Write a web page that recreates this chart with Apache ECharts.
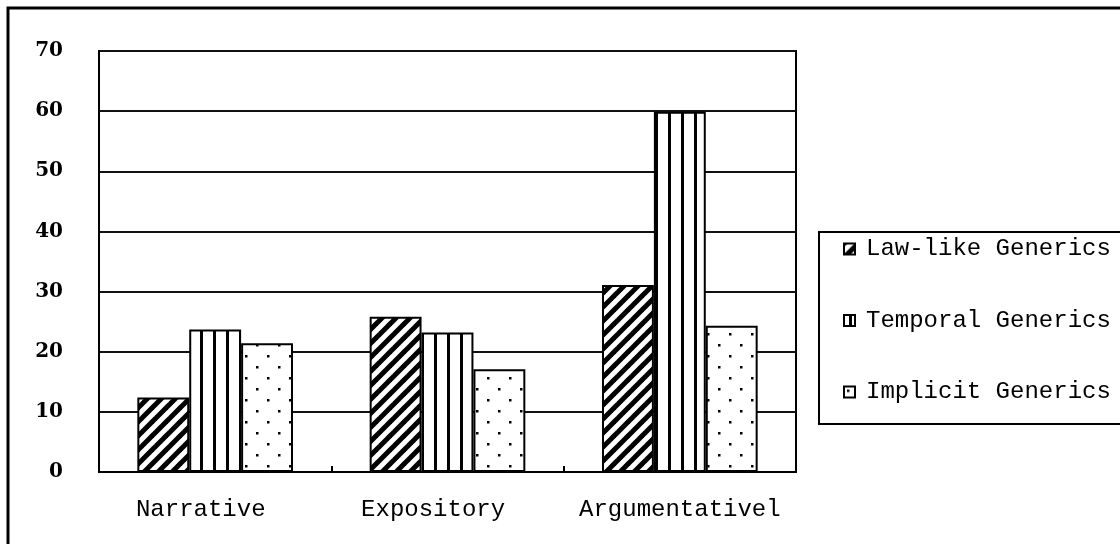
<!DOCTYPE html>
<html>
<head>
<meta charset="utf-8">
<script src="https://cdn.jsdelivr.net/npm/echarts@6/dist/echarts.min.js"></script>
<style>
html,body{margin:0;padding:0;background:#fff;}
#chart{width:1120px;height:544px;}
</style>
</head>
<body>
<div id="chart"></div>
<script>
const categories = ['Narrative', 'Expository', 'Argumentativel'];
const seriesNames = ['Law-like Generics', 'Temporal Generics', 'Implicit Generics'];
const lawLike = [12.4, 25.8, 31.1];
const temporal = [23.7, 23.2, 59.9];
const implicit = [21.4, 17.1, 24.3];
const yTicks = [0, 10, 20, 30, 40, 50, 60, 70];

function makeTile(w, h, draw) {
  const c = document.createElement('canvas');
  c.width = w; c.height = h;
  const ctx = c.getContext('2d');
  ctx.fillStyle = '#fff';
  ctx.fillRect(0, 0, w, h);
  ctx.fillStyle = '#000';
  ctx.strokeStyle = '#000';
  draw(ctx);
  return c;
}
const hatch = makeTile(14, 14, ctx => {
  ctx.lineWidth = 5;
  for (let k = -1; k <= 1; k++) {
    ctx.beginPath();
    ctx.moveTo(-14 + k * 14, 14 + 14);
    ctx.lineTo(14 + k * 14 + 14, -14);
    ctx.stroke();
  }
});
const vstripe = makeTile(13, 13, ctx => {
  ctx.fillRect(5, 0, 3, 13);
});
const dots = makeTile(22, 22, ctx => {
  ctx.fillRect(3, 3, 2.5, 2.5);
  ctx.fillRect(14, 14, 2.5, 2.5);
});
const patterns = [hatch, vstripe, dots];
const values = [lawLike, temporal, implicit];

const chart = echarts.init(document.getElementById('chart'));
const monoFont = '"Liberation Mono", monospace';
chart.setOption({
  animation: false,
  backgroundColor: '#fff',
  grid: { left: 99, right: 324, top: 51, bottom: 72, show: true, borderColor: '#000', borderWidth: 2 },
  legend: {
    orient: 'vertical',
    left: 819,
    top: 232,
    padding: [5, 40, 20, 24],
    itemGap: 47.5,
    itemWidth: 11,
    itemHeight: 11,
    icon: 'rect',
    borderColor: '#000',
    borderWidth: 2,
    backgroundColor: '#fff',
    data: seriesNames,
    textStyle: { fontFamily: monoFont, fontSize: 24, color: '#000', lineHeight: 24, padding: [0, 0, 0, 6] }
  },
  xAxis: {
    type: 'category',
    data: categories,
    axisLine: { lineStyle: { color: '#000', width: 2 } },
    axisTick: { show: true, inside: true, interval: 0, length: 6, lineStyle: { color: '#000', width: 2 } },
    axisLabel: {
      interval: 0, fontFamily: monoFont, fontSize: 24, color: '#000', margin: 26,
      formatter: (v, i) => (i < 2 ? v + '  ' : v)
    }
  },
  yAxis: {
    type: 'value',
    min: yTicks[0],
    max: yTicks[yTicks.length - 1],
    interval: 10,
    axisLine: { show: true, lineStyle: { color: '#000', width: 2 } },
    axisTick: { show: false },
    splitLine: { lineStyle: { color: '#111', width: 2 } },
    axisLabel: { fontFamily: '"DejaVu Serif", serif', fontWeight: 'bold', fontSize: 20, color: '#000', margin: 36 }
  },
  series: seriesNames.map((name, i) => ({
    name: name,
    type: 'bar',
    data: values[i],
    barGap: '0%',
    barCategoryGap: '33%',
    itemStyle: {
      color: { image: patterns[i], repeat: 'repeat' },
      borderColor: '#000',
      borderWidth: 2
    }
  })),
  graphic: [{
    type: 'rect',
    shape: { x: 8, y: 8, width: 1130, height: 560 },
    style: { fill: null, stroke: '#000', lineWidth: 3 },
    silent: true,
    z: 100
  }]
});
</script>
</body>
</html>
